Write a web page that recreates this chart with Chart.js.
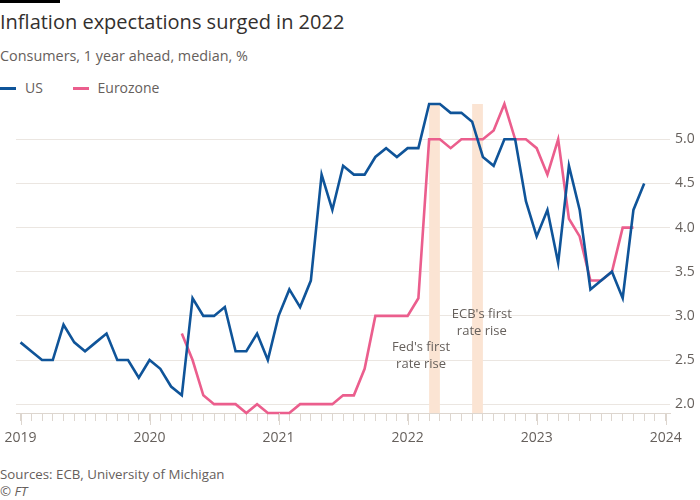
<!DOCTYPE html>
<html>
<head>
<meta charset="utf-8">
<script src="https://cdn.jsdelivr.net/npm/chart.js@4"></script>
<style>
  body { margin: 0; background: #fff; font-family: "Open Sans", sans-serif; }
  #wrap { position: relative; width: 700px; height: 500px; overflow: hidden; }
  .topbar { position: absolute; left: 0; top: 0; width: 60px; height: 3px; background: #000; }
  .title { position: absolute; left: 0; top: 8px; font-size: 20px; color: #33302e; white-space: nowrap; }
  .sub { position: absolute; left: 0; top: 46px; font-size: 14.4px; color: #66605c; white-space: nowrap; }
  .legend { position: absolute; left: 0; top: 78px; font-size: 14px; color: #66605c; white-space: nowrap; }
  .legend span.key { display: inline-block; width: 16px; height: 3px; vertical-align: middle; margin-right: 9px; position: relative; top: -1px; }
  .legend span.item { margin-right: 26px; }
  .source { position: absolute; left: 0; top: 465px; font-size: 13.3px; color: #66605c; white-space: nowrap; }
  .ft { position: absolute; left: 0; top: 482px; font-size: 13.3px; color: #66605c; font-style: italic; }
  #box { position: absolute; left: 0; top: 100px; width: 700px; height: 351px; }
</style>
</head>
<body>
<div id="wrap">
  <div class="topbar"></div>
  <div class="title">Inflation expectations surged in 2022</div>
  <div class="sub">Consumers, 1 year ahead, median, %</div>
  <div class="legend">
    <span class="item"><span class="key" style="background:#0f5499"></span>US</span>
    <span class="item"><span class="key" style="background:#eb5e8d"></span>Eurozone</span>
  </div>
  <div id="box"><canvas id="chart"></canvas></div>
  <div class="source">Sources: ECB, University of Michigan</div>
  <div class="ft">© FT</div>
</div>
<script>
// months counted from Jan 2019 = 0
const firstYear = 2019;
const usStart = 0;
const usValues = [
  2.7, 2.6, 2.5, 2.5, 2.9, 2.7, 2.6, 2.7, 2.8, 2.5, 2.5, 2.3,
  2.5, 2.4, 2.2, 2.1, 3.2, 3.0, 3.0, 3.1, 2.6, 2.6, 2.8, 2.5,
  3.0, 3.3, 3.1, 3.4, 4.6, 4.2, 4.7, 4.6, 4.6, 4.8, 4.9, 4.8,
  4.9, 4.9, 5.4, 5.4, 5.3, 5.3, 5.2, 4.8, 4.7, 5.0, 5.0, 4.3,
  3.9, 4.2, 3.6, 4.7, 4.2, 3.3, 3.4, 3.5, 3.2, 4.2, 4.5
];
const ezStart = 15; // Apr 2020
const ezValues = [
  2.8, 2.5, 2.1, 2.0, 2.0, 2.0, 1.9, 2.0, 1.9,
  1.9, 1.9, 2.0, 2.0, 2.0, 2.0, 2.1, 2.1, 2.4, 3.0, 3.0, 3.0,
  3.0, 3.2, 5.0, 5.0, 4.9, 5.0, 5.0, 5.0, 5.1, 5.4, 5.0, 5.0,
  4.9, 4.6, 5.0, 4.1, 3.9, 3.4, 3.4, 3.5, 4.0, 4.0
];
const yTicks = [2.0, 2.5, 3.0, 3.5, 4.0, 4.5, 5.0];
const rateRises = [
  { month: 38, text: ["Fed's first", "rate rise"] },  // Mar 2022
  { month: 42, text: ["ECB's first", "rate rise"] }   // Jul 2022
];

const toPoints = (start, vals) => vals.map((v, i) => ({ x: start + i, y: v }));

const ink = '#66605c';
const gridCol = '#ebe6e1';
const tickCol = '#ddd6cf';
const font = '"Open Sans", sans-serif';

const rateRisePlugin = {
  id: 'rateRises',
  beforeDatasetsDraw(chart) {
    const { ctx, chartArea, scales: { x, y } } = chart;
    ctx.save();
    ctx.fillStyle = '#fbe4d3';
    rateRises.forEach(r => {
      const x0 = x.getPixelForValue(r.month);
      const x1 = x.getPixelForValue(r.month + 1);
      ctx.fillRect(x0, chartArea.top, x1 - x0, chartArea.bottom - chartArea.top);
    });
    // labels next to the bands
    ctx.fillStyle = ink;
    ctx.font = '13px ' + font;
    ctx.textAlign = 'center';
    ctx.textBaseline = 'middle';
    const spots = [{ dx: -0.75, v: 2.64 }, { dx: 0.9, v: 3.02 }];
    rateRises.forEach((r, i) => {
      const cx = x.getPixelForValue(r.month + spots[i].dx);
      const cy = y.getPixelForValue(spots[i].v);
      r.text.forEach((line, j) => ctx.fillText(line, cx, cy + j * 17));
    });
    ctx.restore();
  },
  afterDraw(chart) {
    // longer ticks at the year marks
    const { ctx, chartArea, scales: { x } } = chart;
    ctx.save();
    ctx.strokeStyle = tickCol;
    ctx.lineWidth = 1;
    for (let m = 0; m <= 60; m += 12) {
      const px = Math.round(x.getPixelForValue(m)) + 0.5;
      ctx.beginPath();
      ctx.moveTo(px, chartArea.bottom);
      ctx.lineTo(px, chartArea.bottom + 12);
      ctx.stroke();
    }
    ctx.restore();
  }
};

new Chart(document.getElementById('chart'), {
  type: 'line',
  data: {
    datasets: [
      {
        label: 'US',
        data: toPoints(usStart, usValues),
        borderColor: '#0f5499',
        backgroundColor: '#0f5499',
        borderWidth: 2.6,
        pointRadius: 0,
        tension: 0,
        clip: false
      },
      {
        label: 'Eurozone',
        data: toPoints(ezStart, ezValues),
        borderColor: '#eb5e8d',
        backgroundColor: '#eb5e8d',
        borderWidth: 2.6,
        pointRadius: 0,
        tension: 0,
        clip: false
      }
    ]
  },
  options: {
    responsive: true,
    maintainAspectRatio: false,
    animation: false,
    layout: { padding: { left: 16, right: 0, top: 4, bottom: 0 } },
    plugins: {
      legend: { display: false },
      tooltip: { enabled: false }
    },
    scales: {
      x: {
        type: 'linear',
        min: -0.42,
        max: 60.4,
        afterBuildTicks: scale => {
          const t = [];
          for (let m = 0; m <= 60; m++) t.push({ value: m });
          scale.ticks = t;
        },
        afterFit: scale => { scale.height = 38; scale.paddingLeft = 0; scale.paddingRight = 0; },
        ticks: {
          autoSkip: false,
          maxRotation: 0,
          padding: 9,
          color: ink,
          font: { family: font, size: 14 },
          callback: v => (v % 12 === 0 ? String(firstYear + v / 12) : '')
        },
        grid: {
          drawOnChartArea: false,
          drawTicks: true,
          tickLength: 8,
          tickColor: tickCol
        },
        border: { display: true, color: tickCol }
      },
      y: {
        position: 'right',
        min: 1.9,
        max: 5.4,
        afterBuildTicks: scale => { scale.ticks = yTicks.map(v => ({ value: v })); },
        afterFit: scale => { scale.width = 30; scale.paddingTop = 0; scale.paddingBottom = 0; },
        ticks: {
          padding: 5,
          color: ink,
          font: { family: font, size: 14 },
          callback: v => v.toFixed(1)
        },
        grid: { color: gridCol, drawTicks: false },
        border: { display: false }
      }
    }
  },
  plugins: [rateRisePlugin]
});
</script>
</body>
</html>
